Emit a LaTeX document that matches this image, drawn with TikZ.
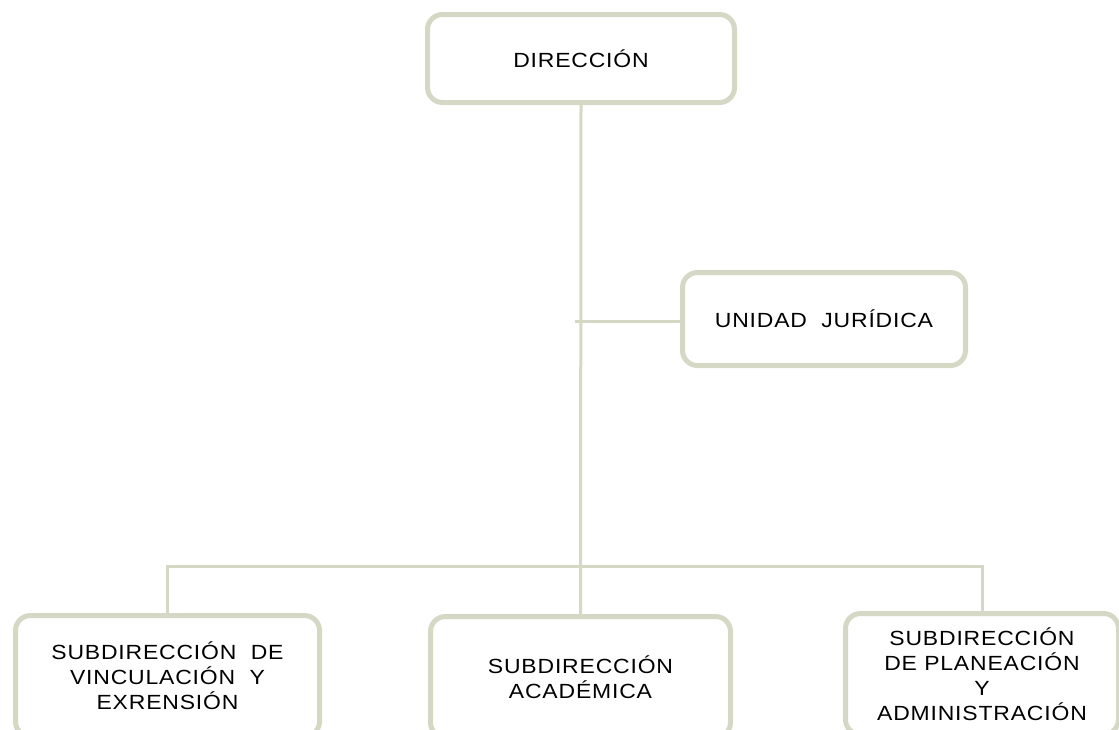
\documentclass[tikz,border=0pt]{standalone}
\usepackage{fontspec}
\setmainfont{Liberation Sans}
\newfontfamily\orgfont[FakeStretch=1.12, LetterSpace=4]{Liberation Sans}
\usepackage{tikz}
\usetikzlibrary{positioning}
\definecolor{sage}{RGB}{212,216,196}

\begin{document}
\begin{tikzpicture}[x=1pt, y=-1pt,
  unit/.style={draw=sage, line width=5pt, rounded corners=15pt, fill=white,
               align=center, inner sep=0pt,
               font=\orgfont\fontsize{20.5}{25}\selectfont},
  link/.style={draw=sage, line width=3pt},
  ]
  \clip (0,0) rectangle (1119,729);

  \node[unit, minimum width=307pt, minimum height=88pt] (direccion) at (581,58.5)
    {DIRECCI\'ON};
  \node[unit, minimum width=283pt, minimum height=93pt] (juridica) at (824,319)
    {UNIDAD\ \ JUR\'IDICA};
  \node[unit, minimum width=304pt, minimum height=121pt] (vinculacion) at (167.5,676)
    {SUBDIRECCI\'ON\ \ DE\\VINCULACI\'ON\ \ Y\\EXRENSI\'ON};
  \node[unit, minimum width=300pt, minimum height=121pt] (academica) at (580.5,677)
    {SUBDIRECCI\'ON\\ACAD\'EMICA};
  \node[unit, minimum width=273pt, minimum height=121pt] (planeacion) at (982,674)
    {SUBDIRECCI\'ON\\DE PLANEACI\'ON\\Y\\ADMINISTRACI\'ON};

  \coordinate (stub) at (575,321);
  \coordinate (bar) at (580,566);

  % trunk and branches
  \draw[link] (direccion.south) -- (academica.north);
  \draw[link] (stub) -- (juridica.west |- stub);
  \draw[link] (vinculacion.north) |- (bar) -| (planeacion.north);
\end{tikzpicture}
\end{document}
